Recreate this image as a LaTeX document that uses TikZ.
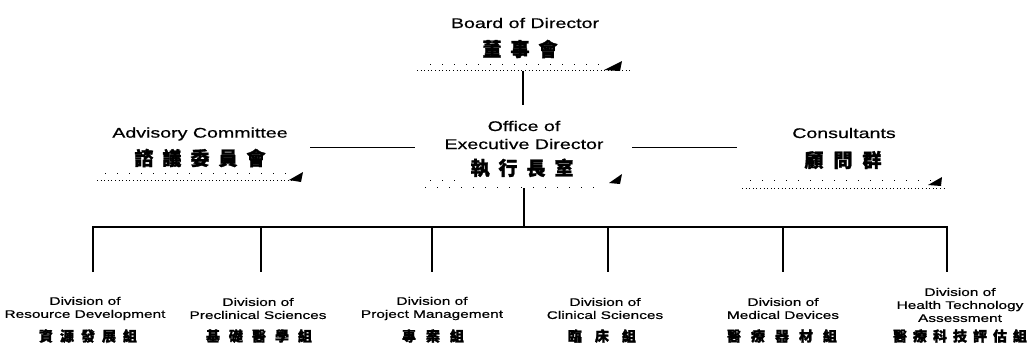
\documentclass[tikz,border=0pt]{standalone}
\usepackage{fontspec}
\setmainfont{Liberation Sans}
\newfontfamily\enf[FakeStretch=1.4,FakeBold=0.6]{Liberation Sans}
\newfontfamily\zhf[FakeBold=1.6]{Noto Sans CJK TC}
\newcommand\zg[1]{\hskip#1pt\relax}
\begin{document}
\begin{tikzpicture}[x=1pt,y=-1pt,
  en/.style={font=\enf\fontsize{14}{18}\selectfont,inner sep=0pt,align=center},
  ensm/.style={font=\enf\fontsize{11}{13}\selectfont,inner sep=0pt,align=center},
  zhbig/.style={font=\zhf\bfseries\fontsize{19}{19}\selectfont,inner sep=0pt},
  zhsm/.style={font=\zhf\bfseries\fontsize{14}{14}\selectfont,inner sep=0pt},
  tree/.style={line width=1.8pt},
  side/.style={line width=1pt},
  shade/.style={line width=0.9pt,dash pattern=on 1pt off 2.6pt},
  speck/.style={line width=0.9pt,dash pattern=on 1pt off 11pt},
  wedge/.style={fill=black}]
\useasboundingbox (0,0) rectangle (1033,360);

% ---- top level
\node[en] (boarden) at (525,23) {Board of Director};
\node[zhbig] (boardzh) at (520,49) {董\zg{9}事\zg{9}會};
\node[en] (officeen) at (524,135) {Office of\\Executive Director};
\node[zhbig] (officezh) at (522,168) {執\zg{9}行\zg{9}長\zg{9}室};
\node[en] (adven) at (200,134) {Advisory Committee};
\node[zhbig] (advzh) at (200,158) {諮\zg{9}議\zg{9}委\zg{9}員\zg{9}會};
\node[en] (consen) at (844,133) {Consultants};
\node[zhbig] (conszh) at (843,160) {顧\zg{10}問\zg{10}群};

% ---- shadow remnants
\coordinate (bs1) at (417,70); \coordinate (bs2) at (630,70);
\draw[shade] (bs1) -- (bs2);
\draw[speck] (430,64) -- (600,64);
\fill[wedge] (604,70) -- (622,61) -- (620,71) -- cycle;

\coordinate (as1) at (97,180); \coordinate (as2) at (300,180);
\draw[shade] (as1) -- (as2);
\draw[speck] (105,173) -- (290,173);
\fill[wedge] (289,180) -- (303,172) -- (301,182) -- cycle;

\coordinate (cs1) at (742,188); \coordinate (cs2) at (947,188);
\draw[shade] (cs1) -- (cs2);
\draw[speck] (750,180) -- (935,180);
\fill[wedge] (928,185) -- (942,177) -- (941,186) -- cycle;

\draw[speck] (425,187) -- (600,187);
\draw[speck] (430,180) -- (465,180);
\fill[wedge] (609,183) -- (622,174) -- (620,184) -- cycle;

% ---- connectors
\coordinate (boardbot) at (523,71);
\coordinate (offtop) at (523,105);
\coordinate (offbot) at (524,188);
\coordinate (busc) at (524,227);
\draw[tree] (boardbot) -- (offtop);
\draw[tree] (offbot) -- (busc);

\coordinate (la) at (310,147); \coordinate (lb) at (415,147);
\coordinate (ra) at (632,147); \coordinate (rb) at (737,147);
\draw[side] (la) -- (lb);
\draw[side] (ra) -- (rb);

\foreach \i/\x in {1/93,2/261,3/432,4/608,5/783,6/947}{
  \coordinate (b\i) at (\x,227);
  \coordinate (e\i) at (\x,272);
}
\draw[tree] (e1) -- (b1) -- (b6) -- (e6);
\foreach \i in {2,3,4,5}{\draw[tree] (b\i) -- (e\i);}

% ---- divisions
\node[ensm] (d1en) at (85,308.5) {Division of\\Resource Development};
\node[zhsm] (d1zh) at (88,336) {資\zg{7}源\zg{7}發\zg{7}展\zg{7}組};
\node[ensm] (d2en) at (258,308.5) {Division of\\Preclinical Sciences};
\node[zhsm] (d2zh) at (259,336) {基\zg{9}礎\zg{9}醫\zg{9}學\zg{9}組};
\node[ensm] (d3en) at (432,308.5) {Division of\\Project Management};
\node[zhsm] (d3zh) at (433,336) {專\zg{10}案\zg{10}組};
\node[ensm] (d4en) at (605,308.5) {Division of\\Clinical Sciences};
\node[zhsm] (d4zh) at (602,336) {臨\zg{13}床\zg{13}組};
\node[ensm] (d5en) at (783,308.5) {Division of\\Medical Devices};
\node[zhsm] (d5zh) at (782,336) {醫\zg{10}療\zg{10}器\zg{10}材\zg{10}組};
\node[ensm] (d6en) at (960,305) {Division of\\Health Technology\\Assessment};
\node[zhsm] (d6zh) at (960,336) {醫\zg{6}療\zg{6}科\zg{6}技\zg{6}評\zg{6}估\zg{6}組};
\end{tikzpicture}
\end{document}
